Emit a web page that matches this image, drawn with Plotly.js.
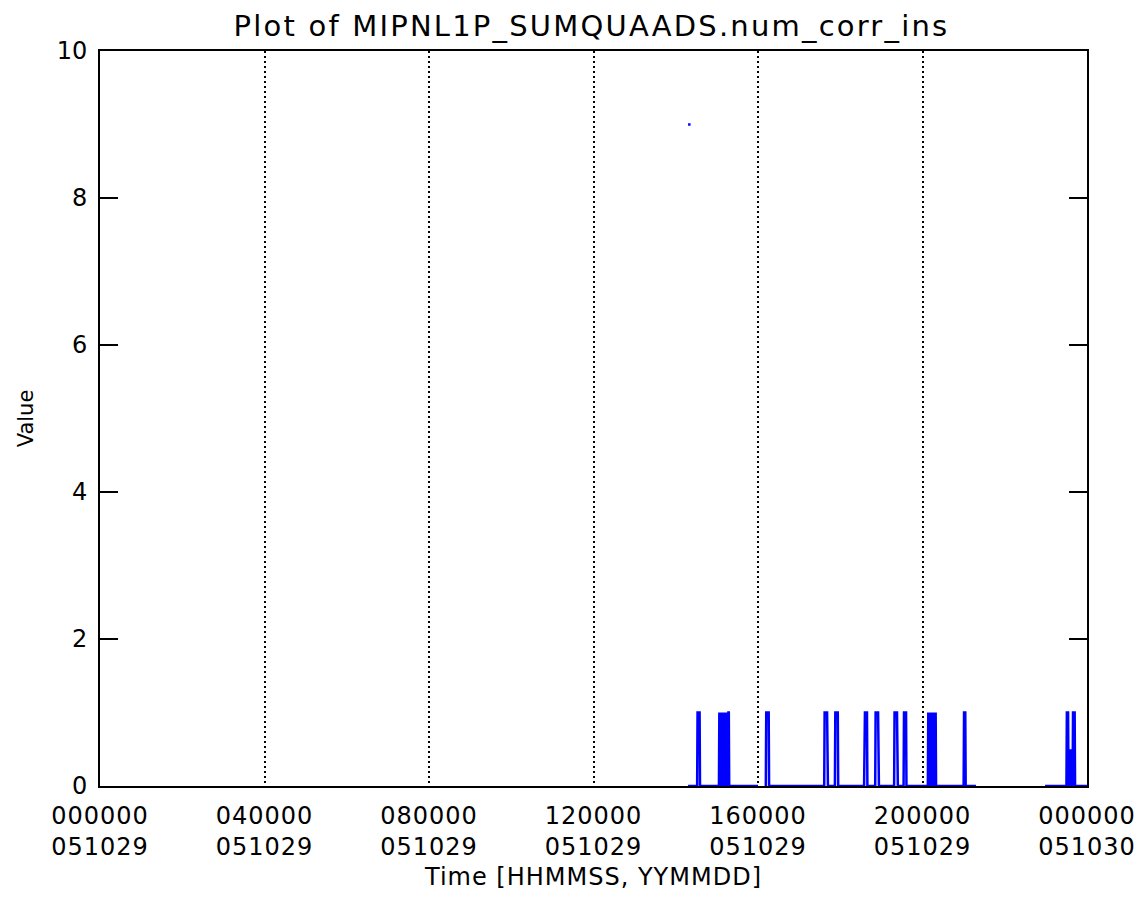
<!DOCTYPE html>
<html>
<head>
<meta charset="utf-8">
<script src="https://cdn.plot.ly/plotly-3.0.1.min.js"></script>
<style>
html,body{margin:0;padding:0;background:#fff;}
#chart{width:1144px;height:910px;}
.gtitle{letter-spacing:2.2px;}
.xtitle{letter-spacing:1px;}
.xtick text{letter-spacing:1px;}
</style>
</head>
<body>
<div id="chart"></div>
<script>
// Time in hours since 000000 051029; null separates data gaps
const timeHours = [
  14.30, 14.36, null,
  14.30, 14.52, 14.53, 14.58, 14.59,
  15.05, 15.06, 15.07, 15.08, 15.09, 15.10, 15.11, 15.12, 15.13, 15.14, 15.15, 15.16, 15.17, 15.18, 15.19, 15.20, 15.21, 15.22, 15.23, 15.24, 15.25, 15.26, 15.27, 15.28, 15.29, 15.30, 16.00, null,
  16.17, 16.19, 16.20, 16.26, 16.27,
  17.61, 17.62, 17.68, 17.69, 17.70,
  17.87, 17.88, 17.94, 17.95,
  18.58, 18.59, 18.60, 18.65, 18.66,
  18.85, 18.86, 18.92, 18.93, 18.94,
  19.31, 19.32, 19.38, 19.39, 19.40,
  19.54, 19.55, 19.60, 19.61,
  20.13, 20.14, 20.15, 20.16, 20.17, 20.18, 20.19, 20.20, 20.21, 20.22, 20.23, 20.24, 20.25, 20.26, 20.27, 20.28, 20.29, 20.30, 20.31, 20.32, 20.33,
  21.00, 21.01, 21.04, 21.05,
  21.30, null,
  22.98, 23.50, 23.51, 23.54, 23.55, 23.56, 23.57, 23.58, 23.59, 23.60, 23.61, 23.62, 23.63, 23.64, 23.65, 23.66, 23.70, 23.71, 24.00
];
const values = [
  9, 9, null,
  0, 0, 1, 1, 0,
  0, 1, 0, 1, 0, 1, 0, 1, 0, 1, 0, 1, 0, 1, 0, 1, 0, 1, 0, 1, 0, 1, 0, 1, 1, 0, 0, null,
  0, 0, 1, 1, 0,
  0, 1, 1, 0.5, 0,
  0, 1, 1, 0,
  0, 0.5, 1, 1, 0,
  0, 1, 1, 0.5, 0,
  0, 1, 1, 0.5, 0,
  0, 1, 1, 0,
  0, 1, 0, 1, 0, 1, 0.5, 1, 0, 1, 0, 1, 0, 1, 0, 1, 0, 1, 0, 1, 0,
  0, 1, 1, 0,
  0, null,
  0, 0, 1, 1, 0, 0.5, 0, 0.5, 0, 0.5, 0, 0.5, 0, 0.5, 0, 1, 1, 0, 0
];
const xTickVals = [0, 4, 8, 12, 16, 20, 24];
const xTickText = ["000000<br>051029", "040000<br>051029", "080000<br>051029", "120000<br>051029", "160000<br>051029", "200000<br>051029", "000000<br>051030"];
const yTickVals = [0, 2, 4, 6, 8, 10];

const font = "DejaVu Sans, sans-serif";
Plotly.newPlot("chart", [{
  x: timeHours, y: values, type: "scatter", mode: "lines",
  line: {color: "#0000ff", width: 2.5, simplify: false}, connectgaps: false, hoverinfo: "none"
}], {
  width: 1144, height: 910,
  margin: {l: 100, r: 57, t: 51, b: 124, pad: 0},
  paper_bgcolor: "#fff", plot_bgcolor: "#fff",
  showlegend: false,
  title: {text: "Plot of MIPNL1P_SUMQUAADS.num_corr_ins", font: {family: font, size: 29, color: "#000"}, x: 0.517, xanchor: "center", y: 0.972, yanchor: "middle"},
  xaxis: {
    range: [0, 24], tickvals: xTickVals, ticktext: xTickText, ticks: "",
    showline: true, linecolor: "#000", linewidth: 2, mirror: true,
    showgrid: true, gridcolor: "#000", gridwidth: 2, griddash: "2px,3px",
    zeroline: false, layer: "below traces",
    tickfont: {family: font, size: 24, color: "#000"}, ticklabelstandoff: 7,
    title: {text: "Time [HHMMSS, YYMMDD]", font: {family: font, size: 24, color: "#000"}, standoff: 8}
  },
  yaxis: {
    range: [0, 10], tickvals: yTickVals, ticks: "inside", ticklen: 18, tickwidth: 2, tickcolor: "#000",
    showline: true, linecolor: "#000", linewidth: 2, mirror: "ticks",
    showgrid: false, zeroline: false, layer: "below traces",
    tickfont: {family: font, size: 24, color: "#000"}, ticklabelstandoff: 6,
    title: {text: "Value", font: {family: font, size: 21, color: "#000"}, standoff: 17}
  }
}, {staticPlot: true});
</script>
</body>
</html>
